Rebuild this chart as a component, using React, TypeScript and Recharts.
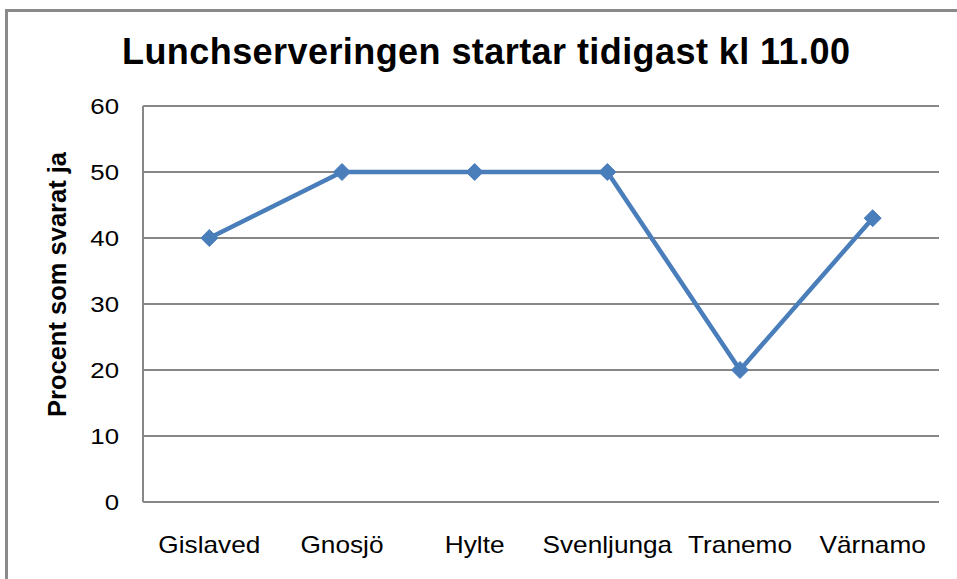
import React from 'react';
import { LineChart, Line, XAxis, YAxis, CartesianGrid, Label } from 'recharts';

const categories = ['Gislaved', 'Gnosjö', 'Hylte', 'Svenljunga', 'Tranemo', 'Värnamo'];
const values = [40, 50, 50, 50, 20, 43];
const yTicks = [0, 10, 20, 30, 40, 50, 60];
const title = 'Lunchserveringen startar tidigast kl 11.00';
const yLabel = 'Procent som svarat ja';

const data = categories.map((c, i) => ({ name: c, value: values[i] }));

const FONT = '"Liberation Sans", Arial, sans-serif';
const GRID = '#878787';
const LINE = '#4a7ebb';

const YTick = (props: any) => {
  const { x, y, payload } = props;
  return (
    <g transform={`translate(${x},${y}) scale(1.2,1)`}>
      <text x={0} y={0} dy="0.36em" textAnchor="end" fontFamily={FONT} fontSize={21.5} fill="#000">
        {payload.value}
      </text>
    </g>
  );
};

const XTick = (props: any) => {
  const { x, y, payload } = props;
  return (
    <g transform={`translate(${x},${y + 51}) scale(1.14,1)`}>
      <text x={0} y={0} textAnchor="middle" fontFamily={FONT} fontSize={23} fill="#000">
        {payload.value}
      </text>
    </g>
  );
};

const Diamond = (props: any) => {
  const { cx, cy } = props;
  if (cx == null || cy == null) return null;
  const r = 8.5;
  return (
    <polygon
      points={`${cx},${cy - r} ${cx + r},${cy} ${cx},${cy + r} ${cx - r},${cy}`}
      fill={LINE}
      stroke={LINE}
      strokeWidth={1}
      strokeLinejoin="round"
    />
  );
};

const YLabelContent = (props: any) => {
  const vb = props.viewBox || { x: 0, y: 0, width: 0, height: 0 };
  const x = vb.x + 66;
  const y = vb.y + vb.height / 2 - 19.5;
  return (
    <text
      transform={`translate(${x},${y}) rotate(-90)`}
      x={0}
      y={0}
      textAnchor="middle"
      fontFamily={FONT}
      fontWeight="bold"
      fontSize={25.5}
      fill="#000"
    >
      {yLabel}
    </text>
  );
};

export default function App() {
  return (
    <div style={{ position: 'absolute', left: 0, top: 0, width: 957, height: 579, overflow: 'hidden', background: '#fff' }}>
      <div
        style={{
          position: 'absolute',
          left: 5,
          top: 9,
          width: 1100,
          height: 800,
          border: '3px solid #8a8a8a',
          boxSizing: 'border-box',
        }}
      />
      <div
        style={{
          position: 'absolute',
          left: 122,
          top: 33.5,
          whiteSpace: 'nowrap',
          fontFamily: FONT,
          fontWeight: 'bold',
          fontSize: 36,
          lineHeight: '36px',
          letterSpacing: '0.43px',
          color: '#000',
        }}
      >
        {title}
      </div>
      <div style={{ position: 'absolute', left: 0, top: 0 }}>
        <LineChart width={957} height={579} data={data} margin={{ top: 106, right: 18, bottom: 0, left: 0 }}>
          <CartesianGrid horizontal={true} vertical={false} stroke={GRID} strokeWidth={2} />
          <XAxis
            dataKey="name"
            type="category"
            scale="band"
            height={77}
            axisLine={{ stroke: GRID, strokeWidth: 2 }}
            tickLine={false}
            tickSize={0}
            tickMargin={0}
            tick={<XTick />}
            interval={0}
          />
          <YAxis
            width={143}
            domain={[0, 60]}
            ticks={yTicks}
            axisLine={{ stroke: GRID, strokeWidth: 2 }}
            tickLine={false}
            tickSize={0}
            tickMargin={24}
            tick={<YTick />}
            interval={0}
          >
            <Label content={<YLabelContent />} />
          </YAxis>
          <Line
            type="linear"
            dataKey="value"
            stroke={LINE}
            strokeWidth={4.5}
            dot={<Diamond />}
            activeDot={false}
            isAnimationActive={false}
          />
        </LineChart>
      </div>
    </div>
  );
}
